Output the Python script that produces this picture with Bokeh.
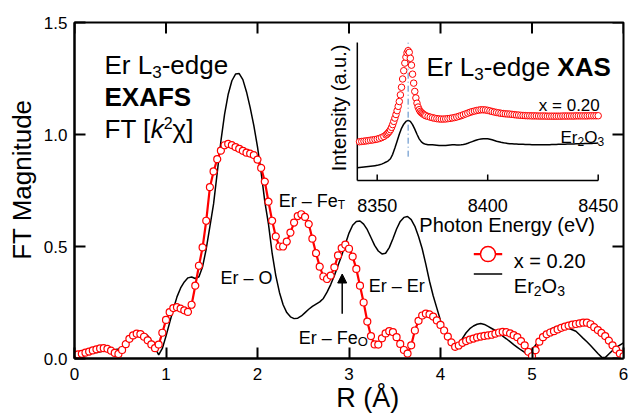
import numpy as np
from bokeh.plotting import figure
from bokeh.models import Range1d, FixedTicker, PrintfTickFormatter, Label, Arrow, NormalHead
from bokeh.embed import file_html
from bokeh.resources import INLINE

FONT = "Liberation Sans"

# ---------------- data ----------------
R_STEP = 0.04
# FT magnitude, x = 0.20 sample (red circles)
ft_x020 = [
    0.015, 0.018, 0.021, 0.026, 0.031, 0.036, 0.041, 0.045, 0.046, 0.043,
    0.035, 0.025, 0.020, 0.038, 0.064, 0.088, 0.103, 0.111, 0.109, 0.097,
    0.081, 0.063, 0.046, 0.062, 0.115, 0.172, 0.207, 0.225, 0.229, 0.223,
    0.215, 0.208, 0.240, 0.325, 0.414, 0.496, 0.615, 0.765, 0.835, 0.890,
    0.928, 0.952, 0.958, 0.953, 0.944, 0.936, 0.927, 0.919, 0.915, 0.908,
    0.888, 0.851, 0.790, 0.700, 0.615, 0.545, 0.500, 0.500, 0.522, 0.562,
    0.607, 0.636, 0.644, 0.632, 0.600, 0.535, 0.470, 0.410, 0.366, 0.355,
    0.370, 0.407, 0.460, 0.493, 0.508, 0.490, 0.455, 0.400, 0.325, 0.250,
    0.165, 0.100, 0.063, 0.062, 0.090, 0.112, 0.122, 0.118, 0.095, 0.065,
    0.038, 0.022, 0.059, 0.125, 0.168, 0.192, 0.200, 0.197, 0.187, 0.170,
    0.150, 0.125, 0.098, 0.072, 0.052, 0.058, 0.070, 0.078, 0.084, 0.089,
    0.094, 0.098, 0.101, 0.103, 0.106, 0.111, 0.116, 0.119, 0.118, 0.112,
    0.104, 0.095, 0.078, 0.059, 0.030, 0.010, 0.037, 0.075, 0.095, 0.108,
    0.116, 0.122, 0.130, 0.137, 0.142, 0.147, 0.151, 0.154, 0.157, 0.160,
    0.160, 0.153, 0.140, 0.127, 0.114, 0.100, 0.080, 0.059, 0.040, 0.022,
    0.010,
]
# FT magnitude, Er2O3 reference (black line)
ft_er2o3 = [
    0.018, 0.018, 0.019, 0.020, 0.022, 0.024, 0.027, 0.030, 0.033, 0.035,
    0.037, 0.039, 0.043, 0.051, 0.062, 0.076, 0.090, 0.103, 0.111, 0.112,
    0.102, 0.080, 0.048, 0.016, 0.045, 0.100, 0.160, 0.220, 0.275, 0.315,
    0.342, 0.360, 0.364, 0.357, 0.365, 0.410, 0.490, 0.590, 0.690, 0.830,
    0.970, 1.090, 1.180, 1.240, 1.270, 1.272, 1.245, 1.190, 1.120, 1.040,
    0.945, 0.830, 0.700, 0.600, 0.470, 0.370, 0.295, 0.240, 0.205, 0.186,
    0.178, 0.180, 0.190, 0.205, 0.220, 0.233, 0.243, 0.253, 0.268, 0.296,
    0.330, 0.370, 0.415, 0.460, 0.510, 0.560, 0.595, 0.612, 0.614, 0.600,
    0.575, 0.540, 0.505, 0.480, 0.467, 0.470, 0.495, 0.535, 0.578, 0.612,
    0.630, 0.634, 0.620, 0.590, 0.545, 0.490, 0.420, 0.345, 0.280, 0.225,
    0.170, 0.125, 0.090, 0.065, 0.050, 0.060, 0.090, 0.115, 0.133, 0.145,
    0.153, 0.156, 0.152, 0.143, 0.134, 0.125, 0.112, 0.100, 0.088, 0.075,
    0.062, 0.050, 0.038, 0.027, 0.020, 0.038, 0.060, 0.082, 0.103, 0.118,
    0.130, 0.138, 0.142, 0.143, 0.141, 0.135, 0.128, 0.122, 0.106, 0.090,
    0.075, 0.058, 0.040, 0.022, 0.006, 0.004, 0.020, 0.036, 0.050, 0.060,
    0.070,
]
r_values = [round(i * R_STEP, 2) for i in range(len(ft_x020))]

# XAS inset: photon energies (eV) and normalised intensities (a.u.)
xas_e_x020 = ([8342 + i for i in range(13)]
              + [8354.5 + 0.5 * i for i in range(36)]
              + [8373 + i for i in range(78)])
xas_x020 = [
    0.281, 0.283, 0.285, 0.287, 0.289, 0.292, 0.294, 0.297, 0.300, 0.305,
    0.311, 0.319, 0.330,
    0.337, 0.346, 0.356, 0.368, 0.385, 0.405, 0.428, 0.452, 0.478, 0.506,
    0.537, 0.572, 0.620, 0.675, 0.735, 0.795, 0.850, 0.893, 0.925, 0.940,
    0.928, 0.885, 0.835, 0.770, 0.705, 0.645, 0.598, 0.560, 0.532, 0.513,
    0.500, 0.491, 0.485, 0.479, 0.474, 0.469,
    0.464, 0.459, 0.455, 0.451, 0.448, 0.446, 0.445, 0.445, 0.446, 0.448,
    0.450, 0.453, 0.456, 0.460, 0.465, 0.470, 0.476, 0.482, 0.488, 0.494,
    0.499, 0.503, 0.507, 0.510, 0.512, 0.512, 0.511, 0.508, 0.504, 0.500,
    0.496, 0.493, 0.490, 0.487, 0.485, 0.483, 0.482, 0.481, 0.479, 0.477,
    0.475, 0.474, 0.472, 0.471, 0.470, 0.469, 0.469, 0.468, 0.468, 0.468,
    0.467, 0.467, 0.467, 0.467, 0.466, 0.466, 0.466, 0.466, 0.466, 0.466,
    0.466, 0.467, 0.467, 0.467, 0.467, 0.467, 0.467, 0.468, 0.468, 0.468,
    0.468, 0.468, 0.468, 0.469, 0.469, 0.469, 0.469, 0.469,
]
xas_e_er2o3 = [8341 + i for i in range(110)]
xas_er2o3 = [
    0.092, 0.094, 0.096, 0.098, 0.100, 0.102, 0.104, 0.106, 0.108, 0.110,
    0.114, 0.119, 0.126, 0.134, 0.143, 0.158, 0.190, 0.235, 0.285, 0.335,
    0.378, 0.408, 0.428, 0.436, 0.428, 0.405, 0.372, 0.335, 0.302, 0.280,
    0.268, 0.262, 0.260, 0.259, 0.259, 0.258, 0.256, 0.254, 0.253, 0.253,
    0.254, 0.256, 0.258, 0.259, 0.259, 0.258, 0.258, 0.259, 0.261, 0.265,
    0.270, 0.276, 0.282, 0.288, 0.293, 0.298, 0.301, 0.303, 0.303, 0.302,
    0.299, 0.295, 0.290, 0.285, 0.281, 0.277, 0.274, 0.271, 0.269, 0.267,
    0.266, 0.265, 0.264, 0.263, 0.262, 0.262, 0.261, 0.261, 0.261, 0.260,
    0.260, 0.260, 0.260, 0.260, 0.260, 0.260, 0.260, 0.260, 0.261, 0.261,
    0.261, 0.262, 0.262, 0.263, 0.263, 0.264, 0.264, 0.265, 0.265, 0.266,
    0.266, 0.267, 0.267, 0.268, 0.268, 0.269, 0.269, 0.270, 0.270, 0.271,
]
edge_energy = 8364

r_ticks = [0, 1, 2, 3, 4, 5, 6]
ft_ticks = [0.0, 0.5, 1.0, 1.5]
e_ticks = [8350, 8400, 8450]
e_tick_labels = ["8350", "8400", "8450"]

assert len(ft_x020) == len(ft_er2o3) == 151
assert len(xas_e_x020) == len(xas_x020)
assert len(xas_e_er2o3) == len(xas_er2o3)

# ---------------- layout constants (page pixels) ----------------
X0, X1 = 0.0, 6.0
Y0, Y1 = 0.0, 1.5
PX_L, PX_R, PX_T, PX_B = 74, 623, 22, 360
ORG = 0                    # page position of the canvas origin
FIG_W, FIG_H = 629, 415
# inset placement
IE_A, IE_B, IPX_A, IPX_B = 8350.0, 8450.0, 376.7, 597.7
IPY_0, IPY_1 = 181.0, 42.0       # inset y = 0 and y = 1
E_MIN, E_MAX = 8341.0, 8450.0
NB = "\u00a0"


def sx(px):
    return X0 + (px - PX_L) * (X1 - X0) / (PX_R - PX_L)


def sy(py):
    return Y0 + (PX_B - py) * (Y1 - Y0) / (PX_B - PX_T)


ie_scale = (IPX_B - IPX_A) / (IE_B - IE_A)
iy_scale = IPY_0 - IPY_1
ix_range = Range1d(IE_A - (IPX_A - PX_L) / ie_scale, IE_B + (PX_R - IPX_B) / ie_scale)
iy_range = Range1d(-(PX_B - IPY_0) / iy_scale, (IPY_0 - PX_T) / iy_scale)


def iy(py):
    return (IPY_0 - py) / iy_scale


p = figure(width=FIG_W, height=FIG_H,
           x_range=Range1d(X0, X1), y_range=Range1d(Y0, Y1),
           output_backend="svg", toolbar_location=None,
           min_border_left=PX_L - ORG, min_border_right=ORG + FIG_W - PX_R,
           min_border_top=PX_T - ORG, min_border_bottom=ORG + FIG_H - PX_B)
p.extra_x_ranges = {"ix": ix_range}
p.extra_y_ranges = {"iy": iy_range}
p.background_fill_color = "white"
p.border_fill_color = "white"
p.grid.visible = False
p.outline_line_color = "black"
p.outline_line_width = 2

for ax in (p.xaxis[0], p.yaxis[0]):
    ax.axis_line_width = 2
    ax.axis_line_color = "black"
    ax.major_tick_line_width = 2
    ax.major_tick_line_color = "black"
    ax.major_tick_in = 11
    ax.major_tick_out = 0
    ax.minor_tick_line_color = None
    ax.major_label_text_font = FONT
    ax.major_label_text_font_size = "17px"
    ax.major_label_text_color = "black"
    ax.axis_label_text_font = FONT
    ax.axis_label_text_font_style = "normal"
    ax.axis_label_text_color = "black"
p.xaxis.ticker = FixedTicker(ticks=r_ticks)
p.yaxis.ticker = FixedTicker(ticks=ft_ticks)
p.yaxis.formatter = PrintfTickFormatter(format="%.1f")
p.xaxis.major_label_standoff = 9
p.yaxis.major_label_standoff = 7
# axis titles (no-break spaces shift them off-centre as in the reference)
p.xaxis.axis_label = NB * 5 + "R (\u00c5)"
p.xaxis.axis_label_text_font_size = "27px"
p.xaxis.axis_label_standoff = 0
p.yaxis.axis_label = NB * 3 + "FT Magnitude"
p.yaxis.axis_label_text_font_size = "26px"
p.yaxis.axis_label_standoff = 4

# ticks on top and right spines (inward)
tdy = 11 * (Y1 - Y0) / (PX_B - PX_T)
tdx = 11 * (X1 - X0) / (PX_R - PX_L)
p.segment(x0=r_ticks, y0=[Y1] * len(r_ticks), x1=r_ticks, y1=[Y1 - tdy] * len(r_ticks),
          line_color="black", line_width=2)
p.segment(x0=[X1] * len(ft_ticks), y0=ft_ticks, x1=[X1 - tdx] * len(ft_ticks), y1=ft_ticks,
          line_color="black", line_width=2)

# ---------------- main curves ----------------
p.line(r_values, ft_er2o3, line_color="black", line_width=1.5)
p.line(r_values, ft_x020, line_color="red", line_width=2.2)
p.scatter(r_values, ft_x020, marker="circle", size=7, line_color="red",
          fill_color="white", line_width=1.2)

# ---------------- inset ----------------
IN = dict(x_range_name="ix", y_range_name="iy")
p.segment(x0=[E_MIN, E_MIN], y0=[0, 0], x1=[E_MIN, E_MAX], y1=[1, 0],
          line_color="black", line_width=1.5, **IN)
itick = 6 / iy_scale
p.segment(x0=e_ticks, y0=[0] * 3, x1=e_ticks, y1=[itick] * 3,
          line_color="black", line_width=1.5, **IN)
p.line(xas_e_er2o3, xas_er2o3, line_color="black", line_width=1.5, **IN)
p.segment(x0=[edge_energy], y0=[iy(157)], x1=[edge_energy], y1=[iy(40)],
          line_color="#4f85c4", line_width=1, line_dash="6 3 1 3", **IN)
p.scatter(xas_e_x020, xas_x020, marker="circle", size=6.5, line_color="red",
          fill_color="white", line_width=1, **IN)

for t, lab in zip(e_ticks, e_tick_labels):
    p.add_layout(Label(x=t, y=iy(206), text=lab, text_font=FONT, text_font_size="18px",
                       text_align="center", text_baseline="alphabetic", text_color="black", **IN))

# ---------------- legend ----------------
leg_x = [sx(473.3), sx(501.7)]
p.line(leg_x, [sy(255)] * 2, line_color="red", line_width=2.2)
p.scatter([sx(487.5)], [sy(255)], marker="circle", size=15, line_color="red",
          fill_color="white", line_width=1.5)
p.line(leg_x, [sy(275)] * 2, line_color="black", line_width=1.5)

# ---------------- texts ----------------
ADV = {" ": 278, "E": 667, "r": 333, "L": 556, "-": 333, "e": 556, "d": 556, "g": 556,
       "F": 611, "T": 611, "[": 278, "]": 278, "k": 500, "x": 500, "=": 584, ".": 278,
       "\u2013": 556, "O": 778, "X": 667, "A": 667, "S": 667, "\u03c7": 521}
for d in "0123456789":
    ADV[d] = 556
ADV_BOLD = dict(ADV, A=722)


def tw(s, size, style):
    tbl = ADV_BOLD if "bold" in style else ADV
    return sum(tbl.get(c, 556) for c in s) * size / 1000.0


def rich(x_px, base_px, pieces):
    dx = 0.0
    for text, size, style, drop in pieces:
        p.add_layout(Label(x=sx(x_px), y=sy(base_px), x_offset=dx, y_offset=-drop,
                           text=text, text_font=FONT, text_font_size=f"{size}px",
                           text_font_style=style, text_align="left",
                           text_baseline="alphabetic", text_color="black"))
        dx += tw(text, size, style)


N = "normal"
rich(104, 64.5, [("Er L", 26, N, 0), ("3", 17, N, 7), ("-edge", 26, N, 0)])
rich(104, 97, [("EXAFS", 26, "bold", 0)])
rich(104, 129.5, [("FT [", 26, N, 0), ("k", 26, "italic", 0), ("2", 16, N, -6),
                  ("\u03c7]", 26, N, 0)])

rich(426, 66.7, [("Er L", 26, N, 0), ("3", 17, N, 7), ("-edge ", 26, N, 0), ("XAS", 26, "bold", 0)])
rich(538.3, 105, [("x = 0.20", 17, N, 0)])
rich(560, 137.3, [("Er", 17, N, 0), ("2", 12, N, 4), ("O", 17, N, 0), ("3", 12, N, 4)])

rich(220, 279.3, [("Er \u2013 O", 18, N, 0)])
rich(278.3, 201.7, [("Er \u2013 Fe", 18, N, 0), ("T", 12, N, 4)])
rich(298.3, 339, [("Er \u2013 Fe", 18, N, 0), ("O", 13, N, 4)])
rich(368.3, 287, [("Er \u2013 Er", 18, N, 0)])

rich(513.3, 261.7, [("x = 0.20", 20, N, 0)])
rich(513.3, 287, [("Er", 20, N, 0), ("2", 14, N, 5), ("O", 20, N, 0), ("3", 14, N, 5)])

p.add_layout(Arrow(end=NormalHead(size=9, fill_color="black", line_color="black"),
                   x_start=sx(341.7), y_start=sy(315), x_end=sx(341.7), y_end=sy(275),
                   line_color="black", line_width=1.5))

# inset axis titles
p.add_layout(Label(x=sx(506.7), y=sy(226), text="Photon Energy (eV)", text_font=FONT,
                   text_font_size="20px", text_align="center", text_baseline="alphabetic",
                   text_color="black"))
p.add_layout(Label(x=sx(338), y=sy(108), text="Intensity (a.u.)", angle=90, angle_units="deg",
                   text_font=FONT, text_font_size="20px", text_align="center",
                   text_baseline="middle", text_color="black"))

open("out.html", "w").write(file_html(p, INLINE))
